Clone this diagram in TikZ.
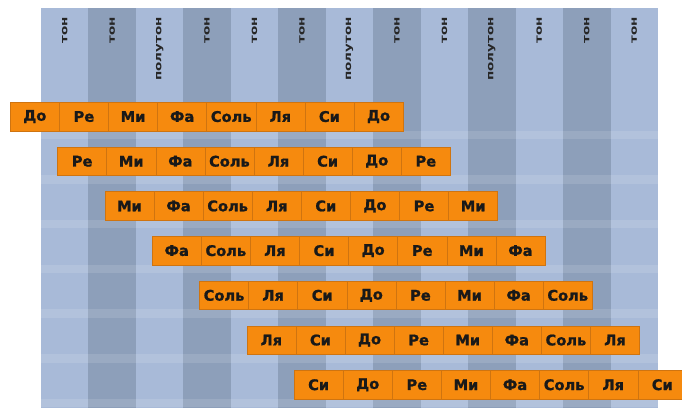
\documentclass[tikz,border=0pt]{standalone}
\usepackage{fontspec}
\setmainfont{DejaVu Sans}
\newfontfamily\notefont{DejaVu Sans Bold}[FakeBold=1.2]
\definecolor{notefill}{HTML}{F68A0E}
\definecolor{noteline}{HTML}{CF7410}
\definecolor{collight}{HTML}{A8BAD8}
\definecolor{coldark}{HTML}{8D9FBA}
\tikzset{
  notebox/.style={draw=noteline,fill=notefill,line width=0.3pt,
    minimum width=24.55pt,minimum height=14.25pt,inner sep=0pt,
    anchor=north west,text=black!90,font=\notefont\fontsize{7.3}{8}\selectfont},
  steplabel/.style={rotate=90,anchor=east,inner sep=0pt,
    text=black!85,font=\bfseries\fontsize{4.8}{5}\selectfont}
}

\begin{document}
\begin{tikzpicture}[x=0.5pt,y=-0.5pt]
  \useasboundingbox[fill=white] (0,0) rectangle (682,408);
  \clip (0,0) rectangle (682,408);
  % columns: tone / semitone steps
  \foreach \k/\lab/\col in {0/тон/collight,1/тон/coldark,2/полутон/collight,
      3/тон/coldark,4/тон/collight,5/тон/coldark,6/полутон/collight,
      7/тон/coldark,8/тон/collight,9/полутон/coldark,10/тон/collight,
      11/тон/coldark,12/тон/collight} {
    \fill[\col] ({41+47.46*\k},8) rectangle ({41+47.46*(\k+1)},408);
    \node[steplabel] (s\k) at ({64.7+47.46*\k},17) {\scalebox{1.4}[1]{\lab}};
  }
  % light strips under the rows
  \foreach \r in {0,...,6}
    \fill[white,opacity=0.12] (41,{130.5+44.7*\r}) rectangle (658,{139+44.7*\r});
  % scales
  \foreach \r/\notes in {0/{До,Ре,Ми,Фа,Соль,Ля,Си,До},
      1/{Ре,Ми,Фа,Соль,Ля,Си,До,Ре},
      2/{Ми,Фа,Соль,Ля,Си,До,Ре,Ми},
      3/{Фа,Соль,Ля,Си,До,Ре,Ми,Фа},
      4/{Соль,Ля,Си,До,Ре,Ми,Фа,Соль},
      5/{Ля,Си,До,Ре,Ми,Фа,Соль,Ля},
      6/{Си,До,Ре,Ми,Фа,Соль,Ля,Си}} {
    \foreach \n [count=\c from 0] in \notes
      \node[notebox] (n\r-\c) at ({10+47.3*\r+49.1*\c},{102+44.7*\r}) {\n};
  }
\end{tikzpicture}
\end{document}
